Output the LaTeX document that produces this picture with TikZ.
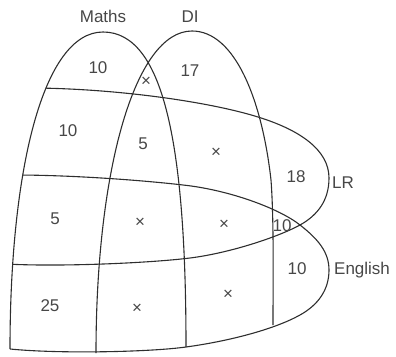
\documentclass[tikz,border=0pt]{standalone}
\usepackage{fontspec}
\setmainfont{Liberation Sans}
\begin{document}
\begin{tikzpicture}[x=1pt,y=-1pt,
  setline/.style={draw=black!82,line width=1.1pt},
  lbl/.style={anchor=base,inner sep=0pt,text=black!72,font=\fontsize{17}{17}\selectfont},
  lblw/.style={lbl,anchor=base west}]
\useasboundingbox (0,0) rectangle (396,356);
% Maths
\draw[setline] (10,349) .. controls (10,170) and (43,32) .. (103,32)
  .. controls (165,32) and (186,150) .. (186,347);
% DI
\draw[setline] (96,353) .. controls (96,170) and (135,31) .. (192,31)
  .. controls (235,31) and (262,100) .. (271,180)
  .. controls (274,220) and (273,280) .. (273,325);
\begin{scope}
\clip (10,349) .. controls (10,170) and (43,32) .. (103,32) -- (103,0) -- (396,0) -- (396,356) -- (10,356) -- cycle;
% LR
\draw[setline] (36,88) .. controls (120,89) and (210,102) .. (258,117)
  .. controls (300,130) and (329,150) .. (329,178)
  .. controls (329,200) and (318,215) .. (300,225)
  .. controls (278,237) and (230,253) .. (190,258)
  .. controls (150,263) and (60,267) .. (6,264);
% English
\draw[setline] (14,175) .. controls (70,175) and (140,180) .. (183,185)
  .. controls (230,190) and (280,209) .. (300,225)
  .. controls (318,239) and (329,252) .. (329,270)
  .. controls (329,290) and (318,305) .. (300,315)
  .. controls (275,329) and (230,341) .. (186,347)
  .. controls (150,352) and (60,354) .. (10,349);
\end{scope}
% labels
\node[lbl] (tm) at (103,23) {Maths};
\node[lbl] (td) at (190,23) {DI};
\node[lblw] (tl) at (332,188) {LR};
\node[lblw] (te) at (334,274) {English};
\node[lbl] (n1) at (98,73) {10};
\node[lbl] (n2) at (146,86) {×};
\node[lbl] (n3) at (190,76) {17};
\node[lbl] (n4) at (68,136) {10};
\node[lbl] (n5) at (143,149) {5};
\node[lbl] (n6) at (216,157) {×};
\node[lbl] (n7) at (296,182) {18};
\node[lbl] (n8) at (55,224) {5};
\node[lbl] (n9) at (140,227) {×};
\node[lbl] (n10) at (224,229) {×};
\node[lbl] (n11) at (282,231.5) {10};
\node[lbl] (n12) at (297,274) {10};
\node[lbl] (n13) at (50,311) {25};
\node[lbl] (n14) at (137,313) {×};
\node[lbl] (n15) at (228,299) {×};
\end{tikzpicture}
\end{document}
